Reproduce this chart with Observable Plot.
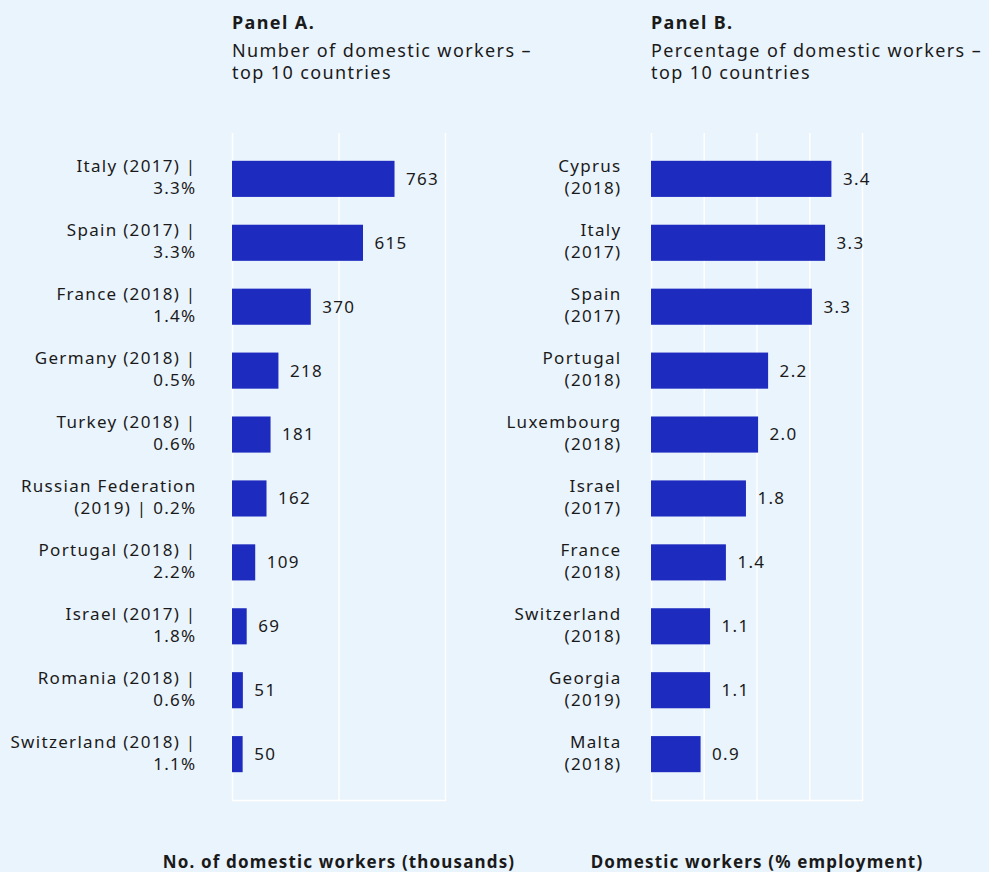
<!DOCTYPE html>
<html><head><meta charset="utf-8">
<script src="https://cdn.jsdelivr.net/npm/d3@7"></script>
<script src="https://cdn.jsdelivr.net/npm/@observablehq/plot@0.6"></script>
<style>
body{margin:0;background:#eaf4fd;font-family:"Noto Sans",sans-serif;color:#1a1a1a}
#root{position:relative;width:989px;height:872px;overflow:hidden}
#root svg text{letter-spacing:1.3px}
.title{position:absolute;top:11px;font-size:18px;line-height:22px;letter-spacing:1.4px;white-space:nowrap}
.title b{display:block;margin-bottom:6px}
.xlab{position:absolute;top:851px;font-weight:bold;font-size:17px;line-height:22px;letter-spacing:1.15px;transform:translateX(-50%);white-space:nowrap}
.panel{position:absolute;top:0}
</style></head><body><div id="root"></div>
<script>
// Panel A: number of domestic workers (thousands)
const categoriesA = ["Italy (2017) |\n3.3%", "Spain (2017) |\n3.3%", "France (2018) |\n1.4%", "Germany (2018) |\n0.5%", "Turkey (2018) |\n0.6%", "Russian Federation\n(2019) | 0.2%", "Portugal (2018) |\n2.2%", "Israel (2017) |\n1.8%", "Romania (2018) |\n0.6%", "Switzerland (2018) |\n1.1%"];
const valuesA = [763, 615, 370, 218, 181, 162, 109, 69, 51, 50];
const valueLabelsA = ["763", "615", "370", "218", "181", "162", "109", "69", "51", "50"];
const ticksA = [0, 500, 1000];

// Panel B: domestic workers (% employment)
const categoriesB = ["Cyprus\n(2018)", "Italy\n(2017)", "Spain\n(2017)", "Portugal\n(2018)", "Luxembourg\n(2018)", "Israel\n(2017)", "France\n(2018)", "Switzerland\n(2018)", "Georgia\n(2019)", "Malta\n(2018)"];
const valuesB = [3.42, 3.3, 3.05, 2.22, 2.03, 1.8, 1.42, 1.12, 1.12, 0.94];
const valueLabelsB = ["3.4", "3.3", "3.3", "2.2", "2.0", "1.8", "1.4", "1.1", "1.1", "0.9"];
const ticksB = [0, 1, 2, 3, 4];

const BAR = "#1e2bbf";
const root = document.getElementById("root");

function panel({cats, vals, labs, ticks, domain, left, width, marginLeft, marginRight, labelDx}) {
  const data = cats.map((c, i) => ({cat: c, value: vals[i], label: labs[i]}));
  const svg = Plot.plot({
    width, height: 872,
    marginTop: 133, marginBottom: 72, marginLeft, marginRight,
    style: {background: "transparent", fontFamily: "Noto Sans", fontSize: "17px", color: "#1a1a1a", overflow: "visible"},
    x: {domain, axis: null},
    y: {domain: cats, axis: null, padding: 0.435, round: false},
    marks: [
      Plot.gridX(ticks, {stroke: "white", strokeOpacity: 1, strokeWidth: 1.5}),
      Plot.frame({anchor: "bottom", stroke: "white", strokeWidth: 1.5}),
      Plot.barX(data, {x: "value", y: "cat", fill: BAR}),
      Plot.text(data, {x: "value", y: "cat", text: "label", dx: 11, textAnchor: "start", fontSize: 17, fill: "#1a1a1a"}),
      Plot.text(cats, {y: d => d, text: d => d, frameAnchor: "left", textAnchor: "end", dx: labelDx, dy: -3, lineHeight: 1.3, fontSize: 17, fill: "#1a1a1a"})
    ]
  });
  svg.classList.add("panel");
  svg.style.left = left + "px";
  root.appendChild(svg);
}

panel({cats: categoriesA, vals: valuesA, labs: valueLabelsA, ticks: ticksA, domain: [0, 1000], left: 0, width: 490, marginLeft: 232, marginRight: 45, labelDx: -36});
panel({cats: categoriesB, vals: valuesB, labs: valueLabelsB, ticks: ticksB, domain: [0, 4], left: 490, width: 499, marginLeft: 161, marginRight: 127, labelDx: -30});

function addDiv(cls, html, left) {
  const d = document.createElement("div");
  d.className = cls; d.innerHTML = html; d.style.left = left + "px";
  root.appendChild(d);
}
addDiv("title", "<b>Panel A.</b>Number of domestic workers –<br>top 10 countries", 232);
addDiv("title", "<b>Panel B.</b>Percentage of domestic workers –<br>top 10 countries", 651);
addDiv("xlab", "No. of domestic workers (thousands)", 339);
addDiv("xlab", "Domestic workers (% employment)", 757);
</script></body></html>
